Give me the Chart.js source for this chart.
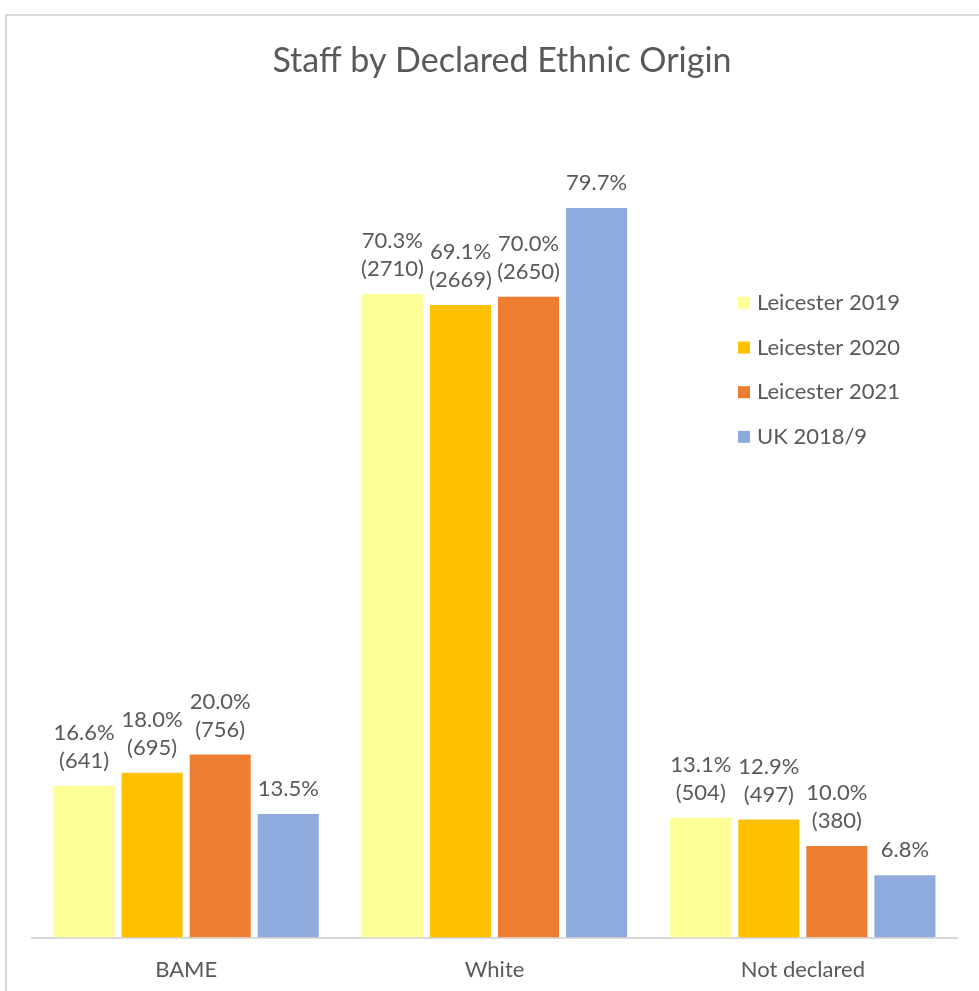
<!DOCTYPE html>
<html>
<head>
<meta charset="utf-8">
<title>Staff by Declared Ethnic Origin</title>
<script src="https://cdn.jsdelivr.net/npm/chart.js@4.4.1/dist/chart.umd.min.js"></script>
<style>
  html, body { margin: 0; padding: 0; background: #fff; overflow: hidden; }
  #frame {
    position: absolute; left: 5px; top: 14px; width: 1100px; height: 1100px;
    border-left: 2px solid #d9d9d9; border-top: 2px solid #d9d9d9;
  }
  #wrap { position: absolute; left: 0; top: 0; width: 979px; height: 991px; }
</style>
</head>
<body>
<div id="frame"></div>
<div id="wrap"><canvas id="chart"></canvas></div>
<script>
const categories = ['BAME', 'White', 'Not declared'];
const seriesNames = ['Leicester 2019', 'Leicester 2020', 'Leicester 2021', 'UK 2018/9'];

// percentage of staff in each group
const pct2019 = [16.6, 70.3, 13.1];
const pct2020 = [18.0, 69.1, 12.9];
const pct2021 = [20.0, 70.0, 10.0];
const pctUK = [13.5, 79.7, 6.8];

// head counts shown under the percentages (none for the UK figures)
const count2019 = [641, 2710, 504];
const count2020 = [695, 2669, 497];
const count2021 = [756, 2650, 380];
const countUK = null;

const barColors = ['#ffff99', '#ffc000', '#ed7d31', '#8faadc'];
const textColor = '#595959';
const fontFamily = "Lato, 'Open Sans', sans-serif";

const pctSeries = [pct2019, pct2020, pct2021, pctUK];
const countSeries = [count2019, count2020, count2021, countUK];

// value labels above each bar: "xx.x%" and "(n)" on a second line
const barLabels = {
  id: 'barLabels',
  afterDatasetsDraw(chart) {
    const ctx = chart.ctx;
    ctx.save();
    ctx.font = '22px ' + fontFamily;
    ctx.fillStyle = textColor;
    ctx.textAlign = 'center';
    ctx.textBaseline = 'middle';
    chart.data.datasets.forEach((ds, i) => {
      const meta = chart.getDatasetMeta(i);
      meta.data.forEach((bar, j) => {
        const lines = [ds.data[j].toFixed(1) + '%'];
        if (countSeries[i]) lines.push('(' + countSeries[i][j] + ')');
        let y = bar.y - 25 - (lines.length - 1) * 28;
        lines.forEach(t => { ctx.fillText(t, bar.x, y); y += 28; });
      });
    });
    ctx.restore();
  }
};

// legend drawn inside the plot area, to the right of the White bars
const innerLegend = {
  id: 'innerLegend',
  afterDatasetsDraw(chart) {
    const ctx = chart.ctx;
    const area = chart.chartArea;
    const x0 = area.right - 219;
    const y0 = area.top + 189;
    ctx.save();
    ctx.font = '22px ' + fontFamily;
    ctx.textBaseline = 'middle';
    ctx.textAlign = 'left';
    chart.data.datasets.forEach((ds, i) => {
      const y = y0 + i * 44.7;
      ctx.fillStyle = ds.backgroundColor;
      ctx.fillRect(x0, y - 6, 12, 12);
      ctx.fillStyle = textColor;
      ctx.fillText(ds.label, x0 + 19, y);
    });
    ctx.restore();
  }
};

new Chart(document.getElementById('chart'), {
  type: 'bar',
  data: {
    labels: categories,
    datasets: seriesNames.map((name, i) => ({
      label: name,
      data: pctSeries[i],
      backgroundColor: barColors[i],
      categoryPercentage: 0.883,
      barPercentage: 0.897
    }))
  },
  options: {
    responsive: true,
    maintainAspectRatio: false,
    animation: false,
    layout: { padding: { left: 32, right: 7, top: 0, bottom: -11 } },
    plugins: {
      legend: { display: false },
      tooltip: { enabled: false },
      title: {
        display: true,
        text: 'Staff by Declared Ethnic Origin',
        color: textColor,
        font: { family: fontFamily, size: 34, weight: 'normal' },
        padding: { top: 41, bottom: 32 }
      }
    },
    scales: {
      x: {
        grid: { display: false, drawTicks: false },
        border: { display: true, color: '#d9d9d9', width: 2 },
        ticks: { color: textColor, padding: 19, font: { family: fontFamily, size: 22 } }
      },
      y: {
        position: 'right',
        min: 0,
        max: 90,
        grid: { display: false, drawTicks: false },
        border: { display: false },
        ticks: { display: false },
        afterFit(scale) { scale.width = 15; }
      }
    }
  },
  plugins: [barLabels, innerLegend]
});
</script>
</body>
</html>
